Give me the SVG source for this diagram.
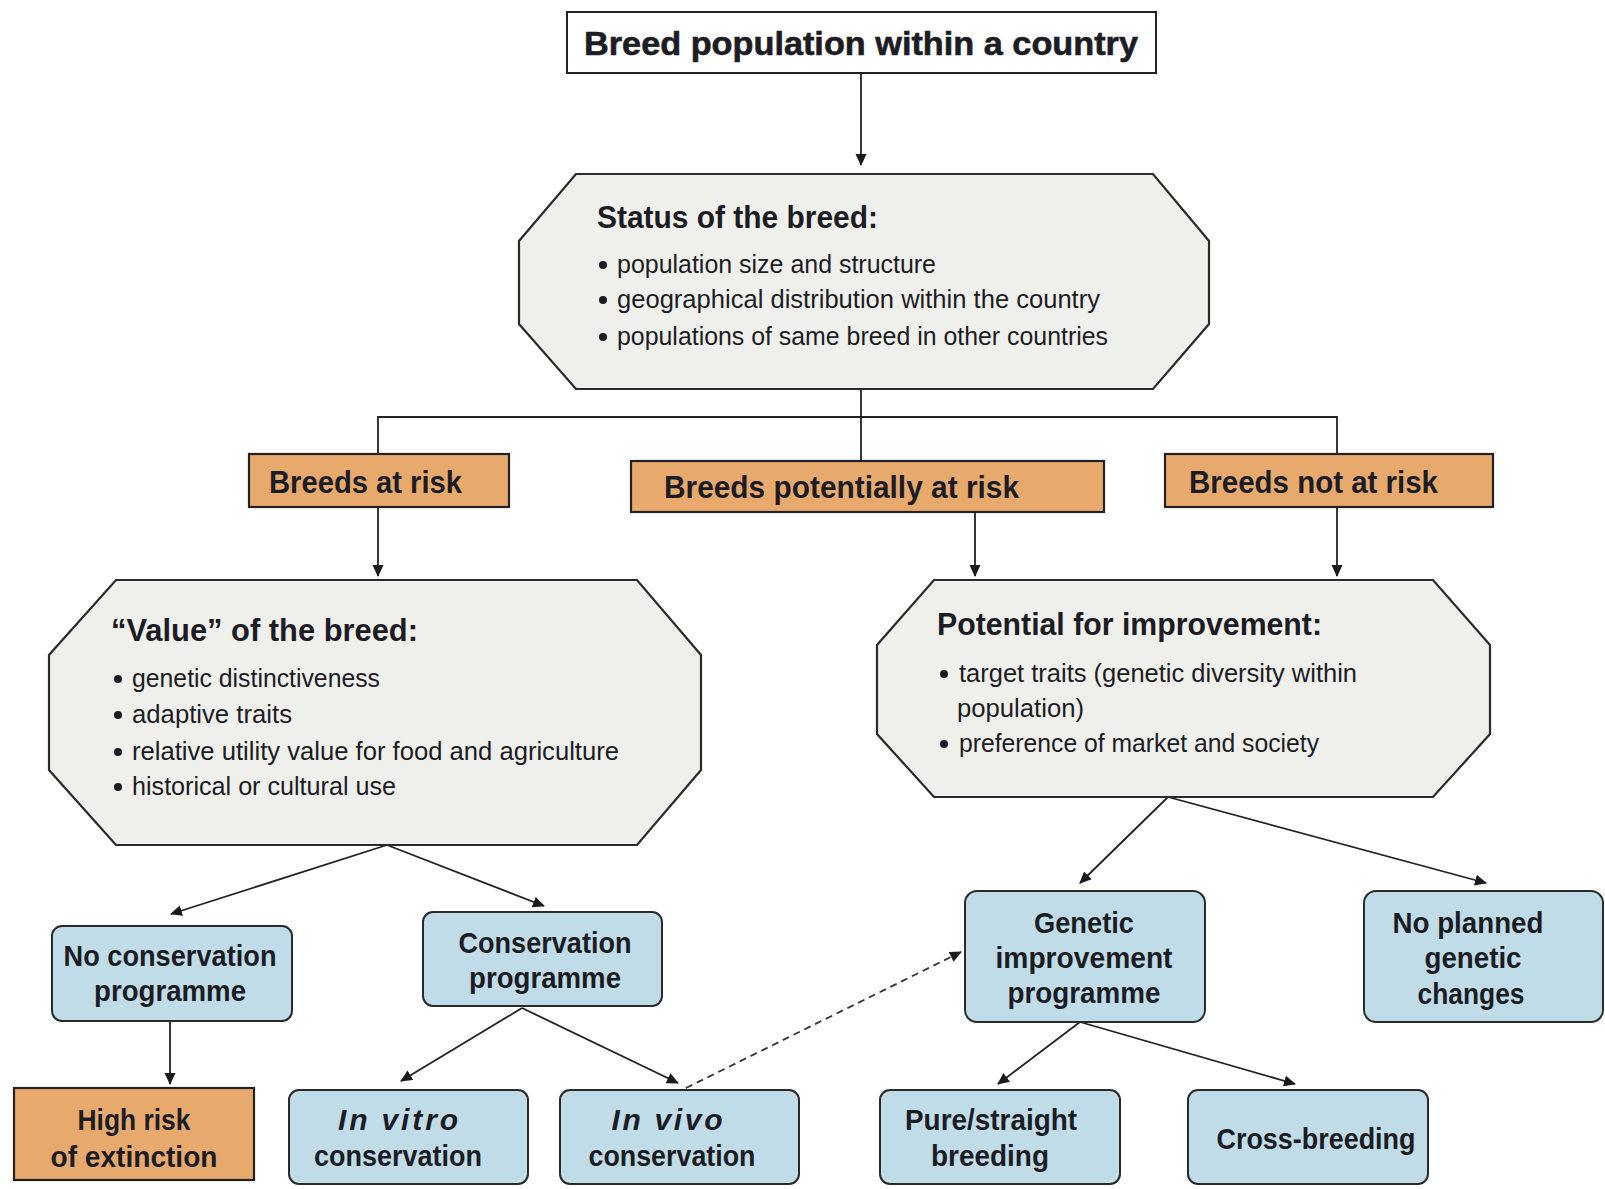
<svg xmlns="http://www.w3.org/2000/svg" width="1605" height="1189" viewBox="0 0 1605 1189">
<defs>
<marker id="ah" viewBox="0 0 12 12" refX="11" refY="6" markerWidth="12" markerHeight="12" markerUnits="userSpaceOnUse" orient="auto">
<path d="M0,0.5 L12,6 L0,11.5 z" fill="#1a1a1a"/>
</marker>
<style>
.lbl{font-family:"Liberation Sans",Arial,sans-serif;font-weight:700;fill:#1c1c24}
.ttl{font-family:"Liberation Sans",Arial,sans-serif;font-weight:700;fill:#1c1c24;font-size:32px}
.bul{font-family:"Liberation Sans",Arial,sans-serif;font-weight:400;fill:#1c1c24;font-size:26px}
.box{fill:#fff;stroke:#222;stroke-width:2}
.oct{fill:#EFEFEB;stroke:#2a2a2a;stroke-width:2.2}
.org{fill:#E8A96C;stroke:#222;stroke-width:2.2}
.blu{fill:#BFDCE8;stroke:#2a2a2a;stroke-width:2}
.ln{fill:none;stroke:#222;stroke-width:1.8}
.arr{fill:none;stroke:#222;stroke-width:1.8;marker-end:url(#ah)}
.dsh{fill:none;stroke:#333;stroke-width:1.8;stroke-dasharray:7 5;marker-end:url(#ah)}
.dot{fill:#1c1c24}
</style>
</defs>
<rect width="1605" height="1189" fill="#fff"/>

<g id="connectors">
<line class="arr" x1="861" y1="74" x2="861" y2="165"/>
<line class="ln" x1="861" y1="389" x2="861" y2="461"/>
<polyline class="ln" points="378,454 378,417 1337,417 1337,454"/>
<line class="arr" x1="378" y1="507" x2="378" y2="576"/>
<line class="arr" x1="975" y1="512" x2="975" y2="576"/>
<line class="arr" x1="1337" y1="507" x2="1337" y2="576"/>
<line class="arr" x1="387" y1="845" x2="171" y2="914"/>
<line class="arr" x1="387" y1="845" x2="544" y2="906"/>
<line class="arr" x1="170" y1="1022" x2="170" y2="1084"/>
<line class="arr" x1="522" y1="1008" x2="401" y2="1081"/>
<line class="arr" x1="522" y1="1008" x2="678" y2="1083"/>
<line class="dsh" x1="686" y1="1088" x2="961" y2="952"/>
<line class="arr" x1="1168" y1="797" x2="1080" y2="883"/>
<line class="arr" x1="1168" y1="797" x2="1486" y2="883"/>
<line class="arr" x1="1080" y1="1022" x2="998" y2="1084"/>
<line class="arr" x1="1080" y1="1022" x2="1295" y2="1084"/>
</g>

<g id="n-breed-population">
<rect class="box" x="567" y="12" width="589" height="61"/>
<text class="lbl" x="861" y="55" font-size="33" font-weight="400" text-anchor="middle" textLength="554" lengthAdjust="spacingAndGlyphs" style="stroke:#1c1c24;stroke-width:0.6">Breed population within a country</text>
</g>

<g id="n-status">
<polygon class="oct" points="576,174 1153,174 1209,241 1209,324 1153,389 576,389 519,324 519,241"/>
<text class="ttl" x="597" y="228" textLength="281" lengthAdjust="spacingAndGlyphs">Status of the breed:</text>
<circle class="dot" cx="603" cy="265" r="4"/>
<text class="bul" x="617" y="273" textLength="319" lengthAdjust="spacingAndGlyphs">population size and structure</text>
<circle class="dot" cx="603" cy="300" r="4"/>
<text class="bul" x="617" y="308" textLength="483" lengthAdjust="spacingAndGlyphs">geographical distribution within the country</text>
<circle class="dot" cx="603" cy="337" r="4"/>
<text class="bul" x="617" y="345" textLength="491" lengthAdjust="spacingAndGlyphs">populations of same breed in other countries</text>
</g>

<g id="n-at-risk">
<rect class="org" x="249" y="454" width="260" height="53"/>
<text class="lbl" x="269" y="493" font-size="32" textLength="193" lengthAdjust="spacingAndGlyphs">Breeds at risk</text>
</g>

<g id="n-potentially-at-risk">
<rect class="org" x="631" y="461" width="473" height="51"/>
<text class="lbl" x="664" y="498" font-size="32" textLength="355" lengthAdjust="spacingAndGlyphs">Breeds potentially at risk</text>
</g>

<g id="n-not-at-risk">
<rect class="org" x="1165" y="454" width="328" height="53"/>
<text class="lbl" x="1189" y="493" font-size="32" textLength="249" lengthAdjust="spacingAndGlyphs">Breeds not at risk</text>
</g>

<g id="n-value">
<polygon class="oct" points="116,580 637,580 701,655 701,770 637,845 116,845 49,770 49,655"/>
<text class="ttl" x="111" y="641" textLength="307" lengthAdjust="spacingAndGlyphs">“Value” of the breed:</text>
<circle class="dot" cx="118" cy="679" r="4"/>
<text class="bul" x="132" y="687" textLength="248" lengthAdjust="spacingAndGlyphs">genetic distinctiveness</text>
<circle class="dot" cx="118" cy="715" r="4"/>
<text class="bul" x="132" y="723" textLength="160" lengthAdjust="spacingAndGlyphs">adaptive traits</text>
<circle class="dot" cx="118" cy="752" r="4"/>
<text class="bul" x="132" y="760" textLength="487" lengthAdjust="spacingAndGlyphs">relative utility value for food and agriculture</text>
<circle class="dot" cx="118" cy="787" r="4"/>
<text class="bul" x="132" y="795" textLength="264" lengthAdjust="spacingAndGlyphs">historical or cultural use</text>
</g>

<g id="n-potential">
<polygon class="oct" points="934,580 1433,580 1490,645 1490,734 1433,797 934,797 877,734 877,645"/>
<text class="ttl" x="937" y="635" textLength="385" lengthAdjust="spacingAndGlyphs">Potential for improvement:</text>
<circle class="dot" cx="944" cy="674" r="4"/>
<text class="bul" x="959" y="682" textLength="398" lengthAdjust="spacingAndGlyphs">target traits (genetic diversity within</text>
<text class="bul" x="957" y="717" textLength="127" lengthAdjust="spacingAndGlyphs">population)</text>
<circle class="dot" cx="944" cy="744" r="4"/>
<text class="bul" x="959" y="752" textLength="360" lengthAdjust="spacingAndGlyphs">preference of market and society</text>
</g>

<g id="n-no-conservation">
<rect class="blu" x="52" y="926" width="240" height="95" rx="10"/>
<text class="lbl" x="170" y="966" font-size="30" text-anchor="middle" textLength="213" lengthAdjust="spacingAndGlyphs">No conservation</text>
<text class="lbl" x="170" y="1001" font-size="30" text-anchor="middle" textLength="152" lengthAdjust="spacingAndGlyphs">programme</text>
</g>

<g id="n-conservation">
<rect class="blu" x="423" y="912" width="239" height="94" rx="10"/>
<text class="lbl" x="545" y="953" font-size="30" text-anchor="middle" textLength="173" lengthAdjust="spacingAndGlyphs">Conservation</text>
<text class="lbl" x="545" y="988" font-size="30" text-anchor="middle" textLength="152" lengthAdjust="spacingAndGlyphs">programme</text>
</g>

<g id="n-high-risk">
<rect class="org" x="14" y="1088" width="240" height="92"/>
<text class="lbl" x="134" y="1130" font-size="30" text-anchor="middle" textLength="113" lengthAdjust="spacingAndGlyphs">High risk</text>
<text class="lbl" x="134" y="1167" font-size="30" text-anchor="middle" textLength="167" lengthAdjust="spacingAndGlyphs">of extinction</text>
</g>

<g id="n-in-vitro">
<rect class="blu" x="289" y="1090" width="239" height="94" rx="10"/>
<text class="lbl" x="398" y="1130" font-size="30" font-style="italic" text-anchor="middle" textLength="120" lengthAdjust="spacing">In vitro</text>
<text class="lbl" x="398" y="1166" font-size="30" text-anchor="middle" textLength="168" lengthAdjust="spacingAndGlyphs">conservation</text>
</g>

<g id="n-in-vivo">
<rect class="blu" x="560" y="1090" width="239" height="94" rx="10"/>
<text class="lbl" x="667" y="1130" font-size="30" font-style="italic" text-anchor="middle" textLength="111" lengthAdjust="spacing">In vivo</text>
<text class="lbl" x="672" y="1166" font-size="30" text-anchor="middle" textLength="167" lengthAdjust="spacingAndGlyphs">conservation</text>
</g>

<g id="n-genetic-improvement">
<rect class="blu" x="965" y="891" width="240" height="131" rx="12"/>
<text class="lbl" x="1084" y="933" font-size="30" text-anchor="middle" textLength="100" lengthAdjust="spacingAndGlyphs">Genetic</text>
<text class="lbl" x="1084" y="968" font-size="30" text-anchor="middle" textLength="177" lengthAdjust="spacingAndGlyphs">improvement</text>
<text class="lbl" x="1084" y="1003" font-size="30" text-anchor="middle" textLength="153" lengthAdjust="spacingAndGlyphs">programme</text>
</g>

<g id="n-no-planned">
<rect class="blu" x="1364" y="891" width="239" height="131" rx="12"/>
<text class="lbl" x="1468" y="933" font-size="30" text-anchor="middle" textLength="151" lengthAdjust="spacingAndGlyphs">No planned</text>
<text class="lbl" x="1473" y="968" font-size="30" text-anchor="middle" textLength="97" lengthAdjust="spacingAndGlyphs">genetic</text>
<text class="lbl" x="1471" y="1004" font-size="30" text-anchor="middle" textLength="107" lengthAdjust="spacingAndGlyphs">changes</text>
</g>

<g id="n-pure">
<rect class="blu" x="880" y="1090" width="240" height="94" rx="10"/>
<text class="lbl" x="991" y="1130" font-size="30" text-anchor="middle" textLength="172" lengthAdjust="spacingAndGlyphs">Pure/straight</text>
<text class="lbl" x="990" y="1166" font-size="30" text-anchor="middle" textLength="118" lengthAdjust="spacingAndGlyphs">breeding</text>
</g>

<g id="n-cross">
<rect class="blu" x="1188" y="1090" width="240" height="94" rx="10"/>
<text class="lbl" x="1316" y="1149" font-size="30" text-anchor="middle" textLength="199" lengthAdjust="spacingAndGlyphs">Cross-breeding</text>
</g>
</svg>
